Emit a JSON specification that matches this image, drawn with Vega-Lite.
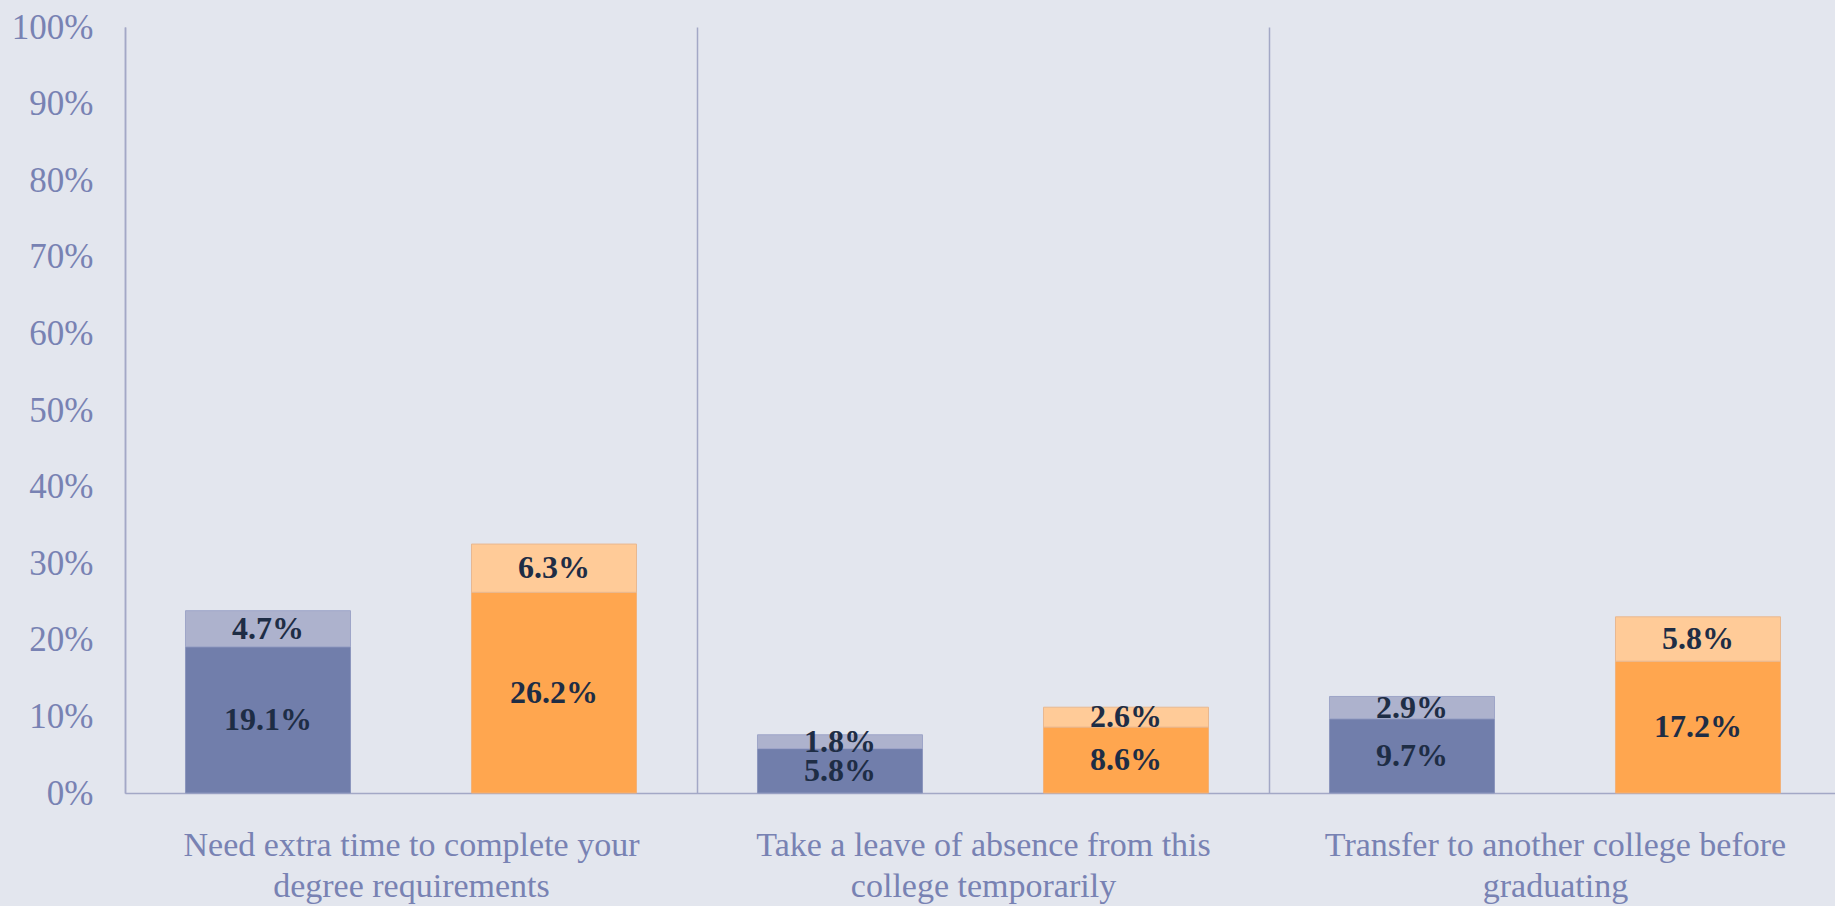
{
  "$schema": "https://vega.github.io/schema/vega-lite/v6.json",
  "width": 1716,
  "height": 766,
  "autosize": {"type": "none"},
  "padding": {"left": 125, "top": 27, "right": 0, "bottom": 113},
  "background": "#e3e6ee",
  "config": {"view": {"stroke": null}, "font": "Liberation Serif"},
  "data": {
    "values": [
      {"category": "Need extra time", "group": "Blue", "series": "Blue base", "order": 1, "value": 0.191},
      {"category": "Need extra time", "group": "Blue", "series": "Blue top", "order": 2, "value": 0.047},
      {"category": "Need extra time", "group": "Orange", "series": "Orange base", "order": 1, "value": 0.262},
      {"category": "Need extra time", "group": "Orange", "series": "Orange top", "order": 2, "value": 0.063},
      {"category": "Leave of absence", "group": "Blue", "series": "Blue base", "order": 1, "value": 0.058},
      {"category": "Leave of absence", "group": "Blue", "series": "Blue top", "order": 2, "value": 0.018},
      {"category": "Leave of absence", "group": "Orange", "series": "Orange base", "order": 1, "value": 0.086},
      {"category": "Leave of absence", "group": "Orange", "series": "Orange top", "order": 2, "value": 0.026},
      {"category": "Transfer", "group": "Blue", "series": "Blue base", "order": 1, "value": 0.097},
      {"category": "Transfer", "group": "Blue", "series": "Blue top", "order": 2, "value": 0.029},
      {"category": "Transfer", "group": "Orange", "series": "Orange base", "order": 1, "value": 0.172},
      {"category": "Transfer", "group": "Orange", "series": "Orange top", "order": 2, "value": 0.058}
    ]
  },
  "encoding": {
    "x": {
      "field": "category",
      "type": "nominal",
      "sort": ["Need extra time", "Leave of absence", "Transfer"],
      "scale": {"paddingInner": 0, "paddingOuter": 0},
      "axis": {
        "title": null,
        "ticks": false,
        "grid": true,
        "tickBand": "extent",
        "gridColor": "#a3a8c6",
        "gridWidth": 1.5,
        "domainColor": "#a3a8c6",
        "domainWidth": 1.5,
        "labelAngle": 0,
        "labelFontSize": 34,
        "labelColor": "#7882b3",
        "labelPadding": 35,
        "labelLineHeight": 41,
        "labelLimit": 0,
        "labelExpr": "datum.value == 'Need extra time' ? ['Need extra time to complete your', 'degree requirements'] : datum.value == 'Leave of absence' ? ['Take a leave of absence from this', 'college temporarily'] : datum.value == 'Transfer' ? ['Transfer to another college before', 'graduating'] : ''"
      }
    },
    "xOffset": {
      "field": "group",
      "sort": ["Blue", "Orange"],
      "scale": {"paddingInner": 0.423, "paddingOuter": 0.2115}
    }
  },
  "layer": [
    {
      "mark": {"type": "bar", "strokeWidth": 1},
      "encoding": {
        "y": {
          "field": "value",
          "type": "quantitative",
          "stack": "zero",
          "scale": {"domain": [0, 1], "nice": false},
          "axis": {
            "title": null,
            "values": [0, 0.1, 0.2, 0.3, 0.4, 0.5, 0.6, 0.7, 0.8, 0.9, 1],
            "format": ".0%",
            "grid": false,
            "ticks": false,
            "domainColor": "#a3a8c6",
            "domainWidth": 1.5,
            "labelFontSize": 35,
            "labelColor": "#7882b3",
            "labelPadding": 32
          }
        },
        "color": {
          "field": "series",
          "type": "nominal",
          "scale": {
            "domain": ["Blue base", "Blue top", "Orange base", "Orange top"],
            "range": ["#717eab", "#adb2cd", "#ffa64f", "#ffcb98"]
          },
          "legend": null
        },
        "stroke": {
          "field": "series",
          "type": "nominal",
          "scale": {
            "domain": ["Blue base", "Blue top", "Orange base", "Orange top"],
            "range": ["#8c96bd", "#9ea5c8", "#f2b27a", "#e8b890"]
          },
          "legend": null
        },
        "order": {"field": "order", "type": "quantitative"}
      }
    },
    {
      "transform": [
        {"stack": "value", "groupby": ["category", "group"], "sort": [{"field": "order"}], "as": ["v0", "v1"]},
        {"calculate": "(datum.v0 + datum.v1) / 2", "as": "mid"}
      ],
      "mark": {"type": "text", "fontWeight": "bold", "fontSize": 32, "color": "#1e2d45", "baseline": "middle"},
      "encoding": {
        "y": {"field": "mid", "type": "quantitative"},
        "text": {"field": "value", "type": "quantitative", "format": ".1%"}
      }
    }
  ]
}
